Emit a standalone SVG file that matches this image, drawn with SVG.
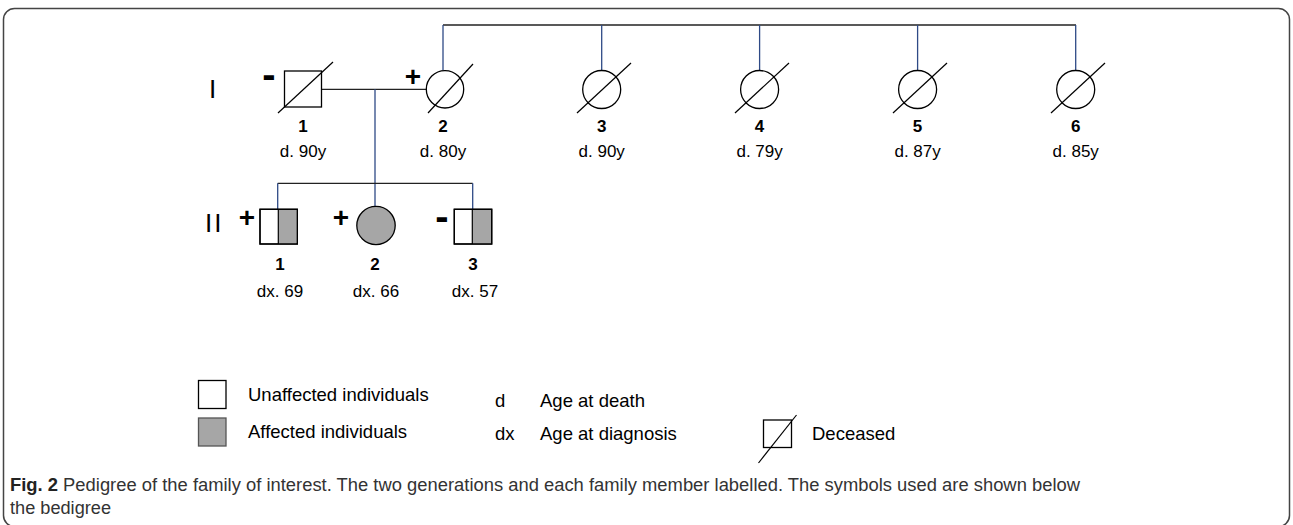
<svg xmlns="http://www.w3.org/2000/svg" width="1293" height="525" viewBox="0 0 1293 525">
<style>
.frame{fill:none;stroke:#444;stroke-width:1.5}
.sym{fill:#fff;stroke:#000;stroke-width:1.3}
.aff{fill:#a6a6a6;stroke:none}
.affs{fill:#a6a6a6;stroke:#000;stroke-width:1.3}
.diag{stroke:#000;stroke-width:1.2;fill:none}
.h{stroke:#222;stroke-width:1.3;fill:none}
.v{stroke:#2e4a86;stroke-width:1.3;fill:none}
text{font-family:"Liberation Sans",Arial,sans-serif;fill:#000}
.num{font-size:17px;font-weight:bold;text-anchor:middle}
.age{font-size:17px;text-anchor:middle}
.gen{font-size:26px;letter-spacing:2px}
.pm{font-size:28px;font-weight:bold;text-anchor:middle}
.mn{font-size:40px;font-weight:bold;text-anchor:middle}
.leg{font-size:18.5px}
.cap{font-size:17.5px;fill:#333}
</style>
<rect class="frame" x="3.5" y="8.5" width="1286" height="518" rx="11"/>
<g id="connectors">
<line class="h" x1="443" y1="25" x2="1076" y2="25"/>
<line class="v" x1="443" y1="25" x2="443" y2="70.7"/>
<line class="v" x1="601.7" y1="25" x2="601.7" y2="70.5"/>
<line class="v" x1="759.6" y1="25" x2="759.6" y2="70.5"/>
<line class="v" x1="917.6" y1="25" x2="917.6" y2="70.5"/>
<line class="v" x1="1075.7" y1="25" x2="1075.7" y2="70.5"/>
<line class="h" x1="322" y1="89.3" x2="426.3" y2="89.3"/>
<line class="v" x1="375" y1="89.3" x2="375" y2="206.3"/>
<line class="h" x1="277.7" y1="183.3" x2="472.7" y2="183.3"/>
<line class="v" x1="277.7" y1="183.3" x2="277.7" y2="209.3"/>
<line class="v" x1="472.7" y1="183.3" x2="472.7" y2="209.3"/>
</g>
<text class="gen" x="209" y="98">I</text>
<text class="gen" x="205" y="232">II</text>
<g id="I-1">
<rect class="sym" x="284.5" y="71" width="37" height="36"/>
<line class="diag" x1="278" y1="113" x2="333" y2="62"/>
<text class="mn" x="269" y="87.5">-</text>
<text class="num" x="303" y="132">1</text>
<text class="age" x="303" y="157">d. 90y</text>
</g>
<g id="I-2">
<circle class="sym" cx="445" cy="89.3" r="18.7"/>
<line class="diag" x1="428" y1="113" x2="473" y2="64"/>
<text class="pm" x="413" y="86">+</text>
<text class="num" x="443" y="132">2</text>
<text class="age" x="443" y="157">d. 80y</text>
</g>
<g id="I-3">
<circle class="sym" cx="601.7" cy="89.5" r="19"/>
<line class="diag" x1="577" y1="113" x2="631" y2="63"/>
<text class="num" x="601.7" y="132">3</text>
<text class="age" x="601.7" y="157">d. 90y</text>
</g>
<g id="I-4">
<circle class="sym" cx="759.6" cy="89.5" r="19"/>
<line class="diag" x1="735" y1="113" x2="789" y2="63"/>
<text class="num" x="759.6" y="132">4</text>
<text class="age" x="759.6" y="157">d. 79y</text>
</g>
<g id="I-5">
<circle class="sym" cx="917.6" cy="89.5" r="19"/>
<line class="diag" x1="893" y1="113" x2="947" y2="63"/>
<text class="num" x="917.6" y="132">5</text>
<text class="age" x="917.6" y="157">d. 87y</text>
</g>
<g id="I-6">
<circle class="sym" cx="1075.7" cy="89.5" r="19"/>
<line class="diag" x1="1051" y1="113" x2="1105" y2="63"/>
<text class="num" x="1075.7" y="132">6</text>
<text class="age" x="1075.7" y="157">d. 85y</text>
</g>
<g id="II-1">
<rect class="sym" x="260" y="209.3" width="37.3" height="34.7"/>
<rect class="aff" x="278.3" y="210" width="18.3" height="33.3"/>
<line class="diag" x1="278.3" y1="209.3" x2="278.3" y2="244"/>
<rect x="260" y="209.3" width="37.3" height="34.7" fill="none" stroke="#000" stroke-width="1.3"/>
<text class="pm" x="247" y="227">+</text>
<text class="num" x="280" y="270">1</text>
<text class="age" x="280" y="297">dx. 69</text>
</g>
<g id="II-2">
<circle class="affs" cx="376" cy="225.5" r="19.2"/>
<text class="pm" x="341" y="227">+</text>
<text class="num" x="375" y="270">2</text>
<text class="age" x="376" y="297">dx. 66</text>
</g>
<g id="II-3">
<rect class="sym" x="454.3" y="209.3" width="37.4" height="34.7"/>
<rect class="aff" x="472.3" y="210" width="18.7" height="33.3"/>
<line class="diag" x1="472.3" y1="209.3" x2="472.3" y2="244"/>
<rect x="454.3" y="209.3" width="37.4" height="34.7" fill="none" stroke="#000" stroke-width="1.3"/>
<text class="mn" x="442" y="230">-</text>
<text class="num" x="473" y="270">3</text>
<text class="age" x="475" y="297">dx. 57</text>
</g>
<g id="legend">
<rect class="sym" x="198.5" y="380.5" width="27.5" height="28"/>
<rect x="198.5" y="418" width="27.5" height="28" fill="#a6a6a6" stroke="#555" stroke-width="1.3"/>
<text class="leg" x="248" y="401">Unaffected individuals</text>
<text class="leg" x="248" y="438">Affected individuals</text>
<text class="leg" x="495" y="407">d</text>
<text class="leg" x="540" y="407">Age at death</text>
<text class="leg" x="495" y="440">dx</text>
<text class="leg" x="540" y="440">Age at diagnosis</text>
<rect class="sym" x="763.5" y="420" width="28" height="27.5"/>
<line class="diag" x1="758.5" y1="463" x2="796.5" y2="415"/>
<text class="leg" x="812" y="440">Deceased</text>
</g>
<text class="cap" x="10" y="491" textLength="1070" lengthAdjust="spacingAndGlyphs"><tspan font-weight="bold" fill="#222">Fig. 2</tspan> Pedigree of the family of interest. The two generations and each family member labelled. The symbols used are shown below</text>
<text class="cap" x="10" y="514" textLength="101" lengthAdjust="spacingAndGlyphs">the bedigree</text>
</svg>
